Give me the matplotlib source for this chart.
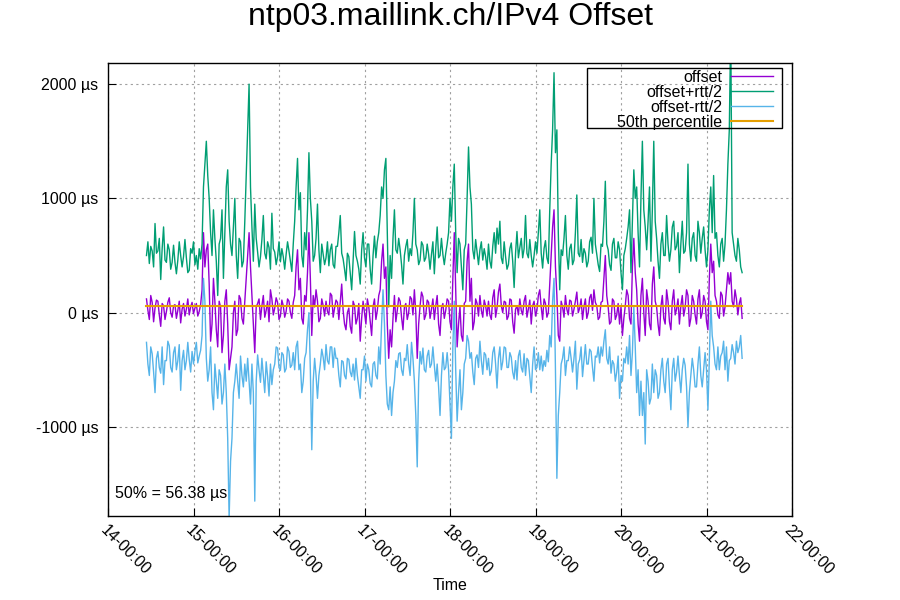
import numpy as np
import pandas as pd
import matplotlib
matplotlib.use("Agg")
import matplotlib.pyplot as plt
import matplotlib.dates as mdates
from matplotlib.patches import Rectangle

plt.rcParams['font.family'] = ['Liberation Sans', 'DejaVu Sans']

# Samples every 24 minutes (values in microseconds)
start_time = "2021-01-14 10:48"
step = "24min"

offset = [
    120, 20, -60, 150, 90, -80, 40, 110, 100, -20, -120, 80, 60, -60, 10, 90, 130, 0, -40, 60,
    70, -50, 20, 100, -90, 30, 80, -30, 30, 120, -20, 50, 90, -10, 40, 80, -30, 10, 70, 200,
    700, 400, 550, 600, 250, -250, -100, 300, 100, -150, -300, 100, 50, -350, -200, 100, 200, -100, -500, -400,
    -300, 0, 100, -200, -150, 150, 120, -50, -100, 100, 300, 500, 700, 400, 150, -100, -350, 50, 80, 120,
    -60, 60, 150, -40, 20, 100, -80, 200, 120, -20, 40, 130, 90, -60, -30, 110, 60, -40, 10, 120,
    100, 0, -50, 90, 150, 400, 550, 200, 300, -50, -100, 150, 100, 350, 700, 300, -200, 150, 50, 200,
    100, -80, -50, 120, 60, -30, 100, 10, -20, 170, 150, -40, 40, 110, 90, -60, 100, 250, 20, -100,
    -150, 0, 40, -120, -180, 100, 60, -100, -50, 80, -250, -50, 100, 0, -100, 120, 50, -80, -200, 50,
    120, -60, 20, 150, 200, 450, 600, 300, 400, -100, -400, -150, -300, -50, 150, -80, 20, 130, 100, -40,
    -150, 50, 80, -60, 0, 140, 120, -20, 200, 0, -400, -100, 60, 180, 140, -60, -20, 110, 90, -50,
    30, 120, -60, 60, 150, -100, -200, 40, 80, -50, 20, 120, 100, -80, -150, 300, 700, 200, -300, -100,
    50, -200, -250, 80, 100, 450, 600, 100, 300, -150, -80, 120, 80, -30, 150, 20, -40, 110, 60, -30,
    100, -20, -60, 130, 200, -40, 40, 180, 250, 60, 0, 100, 90, -60, -30, 120, 110, -80, -180, 30,
    60, -20, 120, 20, -20, 100, 150, -40, 30, 110, -100, 60, 100, -30, 20, 150, 200, 50, -60, 120,
    80, -40, 0, 250, 500, 750, 900, 400, 150, -200, -250, 100, 50, -40, 150, 30, -20, 110, 100, -30,
    30, 100, 180, 0, 40, 120, -60, 50, 120, -50, 0, 130, 160, 20, 200, 90, 60, -60, -40, 90,
    100, 300, 500, 150, 50, -100, -80, 120, 100, -60, -20, 80, -100, 50, -200, -50, 60, 200, 150, -50,
    -100, 400, 650, 350, 200, -100, -250, 150, 300, 0, -200, 200, 100, -100, -150, 250, 400, 100, 50, -100,
    -200, 50, 150, -50, -100, 200, 100, -80, -150, 100, 200, -20, 30, 120, -100, 60, 150, -30, 40, 200,
    150, -120, -50, 150, 100, -20, -100, 120, 200, -50, 0, 150, 100, -80, -150, 300, 600, 350, 450, 150,
    100, -20, -50, 180, 150, -30, 50, 200, 350, 250, 350, 100, 50, 200, 120, -20, 80, 130, -50,
]

offset_plus = [
    500, 620, 430, 580, 540, 400, 780, 520, 540, 650, 290, 560, 750, 460, 440, 600, 550, 380, 440, 590,
    440, 340, 460, 620, 500, 400, 490, 640, 480, 350, 370, 560, 520, 620, 420, 500, 380, 560, 470, 600,
    1100, 1300, 1500, 1200, 1000, 700, 500, 900, 650, 450, 150, 600, 650, 900, 300, 700, 1100, 1250, 800, 600,
    500, 750, 1000, 500, 300, 650, 620, 400, 450, 800, 1200, 1600, 2000, 1100, 750, 450, 950, 650, 530, 400,
    490, 640, 850, 520, 470, 620, 570, 380, 870, 560, 530, 420, 490, 620, 445, 560, 490, 380, 510, 620,
    540, 450, 360, 600, 800, 1100, 1350, 900, 1050, 500, 400, 700, 550, 900, 1400, 1000, 800, 450, 500, 650,
    950, 550, 350, 600, 510, 420, 480, 620, 410, 550, 600, 420, 390, 580, 580, 700, 850, 520, 470, 380,
    280, 520, 490, 350, 200, 450, 710, 500, 450, 380, 250, 550, 700, 480, 400, 600, 600, 380, 250, 500,
    670, 480, 620, 700, 850, 1100, 1000, 1250, 1350, 700, 50, 500, 300, 650, 900, 550, 520, 650, 550, 420,
    250, 500, 580, 640, 450, 560, 500, 700, 1000, 600, 550, 420, 460, 620, 590, 450, 480, 600, 510, 380,
    510, 620, 340, 560, 750, 480, 500, 650, 510, 420, 520, 600, 700, 1000, 800, 1100, 1300, 700, 350, 650,
    600, 400, 200, 550, 600, 1000, 1450, 1100, 950, 550, 470, 640, 530, 420, 550, 620, 460, 560, 490, 380,
    600, 450, 390, 580, 700, 520, 740, 600, 800, 480, 430, 620, 490, 380, 420, 560, 610, 450, 220, 520,
    710, 480, 570, 650, 480, 560, 850, 520, 480, 640, 500, 400, 500, 620, 520, 700, 900, 520, 390, 560,
    630, 480, 430, 900, 1300, 1600, 2100, 1400, 1600, 700, 200, 550, 500, 650, 850, 500, 380, 560, 600, 420,
    460, 700, 1030, 520, 490, 640, 440, 560, 520, 400, 450, 620, 660, 520, 1000, 600, 510, 420, 360, 600,
    580, 800, 1150, 600, 550, 420, 370, 600, 650, 480, 480, 620, 550, 350, 200, 500, 560, 650, 750, 900,
    350, 800, 1250, 1000, 1100, 700, 400, 1000, 1500, 900, 750, 550, 800, 1100, 450, 900, 1500, 800, 650, 450,
    300, 600, 700, 500, 500, 850, 600, 450, 550, 750, 800, 550, 580, 700, 350, 600, 800, 520, 540, 700,
    1300, 600, 450, 650, 700, 500, 450, 800, 700, 520, 650, 750, 550, 400, 550, 900, 1100, 700, 1200, 650,
    700, 500, 400, 600, 650, 450, 600, 900, 1300, 1600, 2500, 700, 600, 500, 450, 650, 550, 400, 350,
]

offset_minus = [
    -260, -450, -550, -300, -360, -520, -700, -400, -340, -480, -530, -300, -630, -420, -420, -250, -290, -480, -520, -350,
    -300, -500, -420, -280, -680, -420, -330, -500, -420, -260, -410, -520, -340, -450, -340, -260, -440, -380, -330, -200,
    300, 100, -400, -600, -500, -300, -700, -850, -450, -600, -750, -500, -550, -800, -700, -450, -700, -1100, -1800, -1300,
    -1100, -700, -600, -450, -600, -750, -380, -550, -650, -450, -600, -400, -600, -800, -450, -700, -1650, -600, -370, -500,
    -610, -400, -550, -700, -430, -560, -730, -450, -630, -500, -450, -300, -310, -480, -505, -350, -370, -520, -490, -300,
    -340, -480, -460, -350, -500, -300, -250, -500, -450, -700, -600, -400, -350, -150, 0, -500, -1200, -600, -400, -550,
    -750, -550, -450, -320, -390, -500, -280, -420, -450, -300, -300, -480, -310, -400, -400, -550, -650, -420, -430, -550,
    -580, -400, -410, -520, -560, -450, -590, -400, -550, -650, -750, -500, -500, -380, -600, -450, -500, -620, -650, -450,
    -430, -550, -580, -300, -450, -100, 200, -100, -550, -800, -850, -650, -900, -700, -600, -420, -480, -360, -350, -500,
    -550, -400, -420, -280, -450, -550, -260, -400, -600, -900, -1350, -600, -340, -450, -310, -500, -520, -380, -330, -480,
    -450, -300, -460, -600, -450, -650, -900, -550, -350, -500, -480, -350, -500, -800, -1100, -300, 100, -500, -950, -700,
    -500, -850, -700, -450, -400, -200, -250, -400, -350, -520, -630, -400, -370, -480, -250, -420, -540, -350, -370, -500,
    -400, -550, -510, -350, -300, -450, -660, -400, -300, -500, -430, -300, -310, -480, -480, -350, -390, -520, -580, -420,
    -590, -380, -330, -480, -520, -360, -550, -400, -420, -560, -700, -450, -300, -500, -480, -350, -500, -380, -510, -420,
    -470, -330, -430, -200, -300, 100, 300, -500, -1450, -900, -700, -450, -400, -300, -550, -420, -420, -300, -400, -520,
    -400, -250, -670, -450, -410, -300, -560, -420, -280, -450, -450, -320, -340, -480, -600, -380, -390, -300, -440, -300,
    -380, -250, -150, -400, -450, -300, -530, -420, -450, -600, -520, -380, -750, -550, -600, -400, -440, -300, -450, -200,
    -550, -350, 50, -300, -700, -500, -900, -600, -900, -700, -1150, -500, -600, -800, -750, -450, -700, -500, -550, -750,
    -700, -500, -400, -600, -700, -450, -400, -650, -850, -500, -400, -600, -520, -380, -550, -700, -500, -400, -460, -650,
    -1000, -700, -550, -400, -500, -650, -650, -450, -300, -550, -650, -500, -350, -500, -850, -400, 100, -200, -300, -450,
    -500, -300, -500, -380, -350, -250, -500, -300, -600, -420, -400, -280, -350, -450, -250, -350, -300, -200, -400,
]

median = 56.38

yticks = [-1000, 0, 1000, 2000]
ytick_labels = ["-1000 µs", "0 µs", "1000 µs", "2000 µs"]

times = pd.date_range(start_time, periods=len(offset), freq=step)

fig = plt.figure(figsize=(9, 6), dpi=100)
ax = fig.add_axes([108 / 900, 84 / 600, 684 / 900, 453 / 600])

ax.plot(times, offset, color="#9400d3", lw=1.0, label="offset")
ax.plot(times, offset_plus, color="#009e73", lw=1.0, label="offset+rtt/2")
ax.plot(times, offset_minus, color="#56b4e9", lw=1.0, label="offset-rtt/2")
ax.plot([times[0], times[-1]], [median, median], color="#e69f00", lw=1.5, label="50th percentile")

ax.set_xlim(pd.Timestamp("2021-01-14"), pd.Timestamp("2021-01-22"))
ax.set_ylim(-1780, 2185)

ax.xaxis.set_major_locator(mdates.DayLocator())
ax.xaxis.set_major_formatter(mdates.DateFormatter("%d-%H:%M"))
ax.set_yticks(yticks)
ax.set_yticklabels(ytick_labels)

ax.grid(True, color="#a0a0a0", linestyle=(0, (2, 3)), lw=0.8)
ax.tick_params(axis="both", direction="in", length=6, width=0.8, labelsize=11.5, colors="black")
ax.tick_params(axis="y", pad=7)
ax.tick_params(axis="x", pad=5)
for lab in ax.get_xticklabels():
    lab.set_rotation(-45)
    lab.set_ha("left")
    lab.set_va("top")
    lab.set_rotation_mode("anchor")
for sp in ax.spines.values():
    sp.set_linewidth(1.0)

# gnuplot style key: open box, text right aligned, sample line on the right
ax.add_patch(Rectangle((479 / 684, 388 / 453), 195 / 684, 60 / 453, transform=ax.transAxes,
                       fill=False, edgecolor="black", lw=1.0, zorder=5))
leg = ax.legend(loc="upper right", bbox_to_anchor=(665 / 684, 446 / 453), borderaxespad=0,
                markerfirst=False, frameon=False, fontsize=11.5, labelspacing=0.0,
                handlelength=2.6, handletextpad=0.6, borderpad=0)
for t in leg.get_texts():
    t.set_ha("right")
leg._legend_box.align = "right"

ax.text(0.01, 0.04, "50% = 56.38 µs", transform=ax.transAxes, fontsize=11.5, va="baseline")

fig.text(0.5, 1 - 17 / 600, "ntp03.maillink.ch/IPv4 Offset", ha="center", va="center", fontsize=23)
fig.text(0.5, 1 - 586 / 600, "Time", ha="center", va="center", fontsize=11.5)

fig.savefig("out.png", dpi=100)
